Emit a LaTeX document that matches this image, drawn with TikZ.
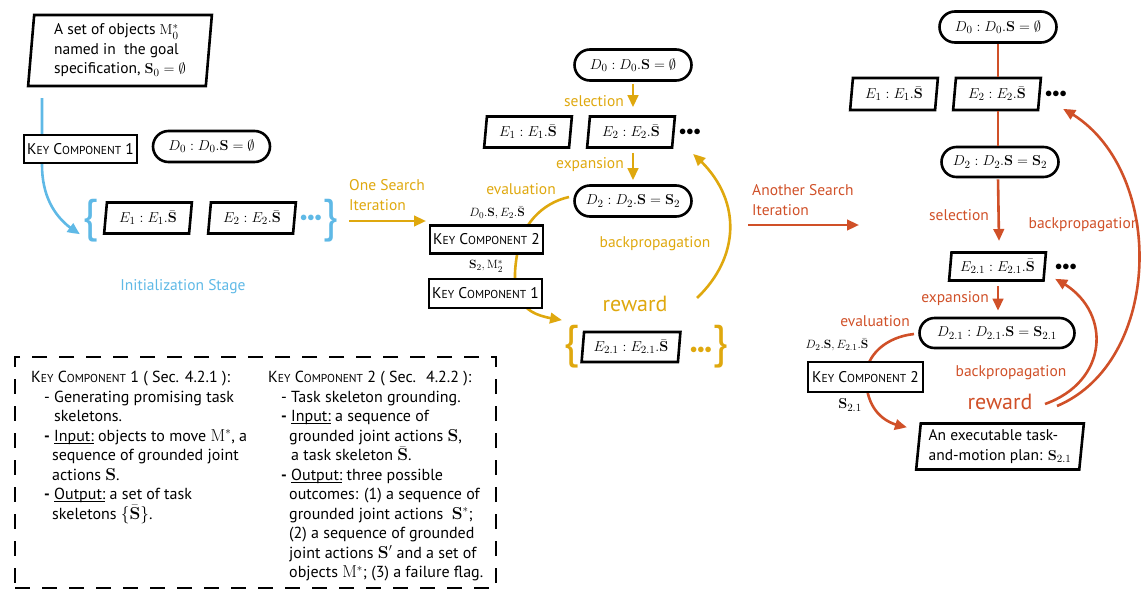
\documentclass[tikz,border=0pt]{standalone}
\usepackage[no-math]{fontspec}
\setmainfont{PT Sans}
\usepackage{amsmath,amssymb}
\usetikzlibrary{shapes.geometric,shapes.misc,arrows.meta,backgrounds,bending}
\definecolor{cblue}{RGB}{95,185,230}
\definecolor{cgold}{RGB}{223,168,14}
\definecolor{cred}{RGB}{208,80,40}
\newcommand\txtf{\fontsize{15.5}{19.5}\selectfont}
\newcommand\notef{\fontsize{16}{19.5}\selectfont}
\newcommand\mathf{\fontsize{15}{17}\selectfont}
\newcommand\smallf{\fontsize{13}{15}\selectfont}
\newcommand\keycomp[1]{K{\fontsize{11.5}{12}\selectfont EY} C{\fontsize{11.5}{12}\selectfont OMPONENT} #1}
\newcommand\threedots{${\bullet}{\bullet}{\bullet}$}
\newcommand\dash{\textbf{-}}
\newsavebox\ulbox
\newcommand\ulx[1]{\sbox\ulbox{#1}\rlap{\rule[-2.2pt]{\wd\ulbox}{0.8pt}}\usebox\ulbox}
\tikzset{
  box/.style={draw=black, line width=2.6pt, fill=white, inner sep=0pt},
  para/.style={box, trapezium, trapezium left angle=82, trapezium right angle=98,
    trapezium stretches=true, minimum height=31, minimum width=88, font=\mathf},
  stadium/.style={box, rounded rectangle, minimum height=31, minimum width=117, font=\mathf},
  kcbox/.style={box, rectangle, minimum height=28, minimum width=113, font=\txtf},
  lbl/.style={font=\txtf, inner sep=0pt},
  rwd/.style={font=\fontsize{22}{24}\selectfont, inner sep=0pt},
  arr/.style={line width=2.6pt, -{Triangle[length=12pt,width=10.5pt,bend]}},
  conn/.style={line width=2.6pt},
  brace/.style={font=\fontsize{46}{46}\selectfont, inner sep=0pt},
  dots/.style={font=\fontsize{13.5}{13.5}\selectfont, inner sep=0pt},
}
\begin{document}
\begin{tikzpicture}[x=1pt,y=-1pt]
\useasboundingbox (0,0) rectangle (1142,592);

% ---------- Initialization stage ----------
\node[box, trapezium, trapezium left angle=85, trapezium right angle=95, trapezium stretches=true,
  minimum width=184, minimum height=71, align=left, font=\txtf] (goal) at (120,50.5)
  {A set of objects $\mathrm{M}_0^*$\\named in~ the goal\\specification, $\mathbf{S}_0=\emptyset$};
\node[kcbox] (kc1a) at (80.5,149) {\keycomp{1}};
\node[stadium] (d0a) at (211.5,146.5) {$D_0 : D_0.\mathbf{S}=\emptyset$};
\node[brace, text=cblue] (lbra) at (90,221) {\{};
\node[para] (e1a) at (148,218) {$E_1 : E_1.\bar{\mathbf{S}}$};
\node[para] (e2a) at (252,218) {$E_2 : E_2.\bar{\mathbf{S}}$};
\node[dots, text=cblue] (dota) at (311,218) {\threedots};
\node[brace, text=cblue] (rbra) at (330,221) {\}};
\node[lbl, text=cblue] (init) at (183,287) {Initialization Stage};
\coordinate (b0) at (42,98);
\coordinate (b1) at (80,234);
\begin{scope}[on background layer]
\draw[arr, cblue] (b0) -- (42,165) .. controls (42,200) and (58,222) .. (b1);
\end{scope}

% ---------- One search iteration ----------
\node[lbl, text=cgold, align=left, anchor=west] (osi) at (349,195) {One Search\\Iteration};
\coordinate (g0) at (349,221);
\coordinate (g1) at (426,221);
\draw[arr, cgold] (g0) -- (g1);

\node[stadium] (d0b) at (633,65) {$D_0 : D_0.\mathbf{S}=\emptyset$};
\node[para] (e1b) at (528,132) {$E_1 : E_1.\bar{\mathbf{S}}$};
\node[para] (e2b) at (631,132) {$E_2 : E_2.\bar{\mathbf{S}}$};
\node[dots] (dotb) at (690,132) {\threedots};
\node[stadium] (d2b) at (633,201) {$D_2 : D_2.\mathbf{S}=\mathbf{S}_2$};
\node[kcbox] (kc2b) at (486.5,239.5) {\keycomp{2}};
\node[kcbox, minimum height=29] (kc1b) at (485.5,293.5) {\keycomp{1}};
\node[font=\smallf, inner sep=0pt] (inb) at (497,213) {$D_0.\mathbf{S}, E_2.\bar{\mathbf{S}}$};
\node[font=\smallf, inner sep=0pt] (outb) at (486,266) {$\mathbf{S}_2, \mathrm{M}_2^*$};
\node[brace, text=cgold] (lbrb) at (571,347) {\{};
\node[para, minimum width=99, minimum height=30] (e21b) at (631,347) {$E_{2.1} : E_{2.1}.\bar{\mathbf{S}}$};
\node[dots, text=cgold] (dotb2) at (701,350) {\threedots};
\node[brace, text=cgold] (rbrb) at (720,347) {\}};

\node[lbl, text=cgold] (selb) at (594,101) {selection};
\node[lbl, text=cgold] (expb) at (590,165) {expansion};
\node[lbl, text=cgold] (evab) at (521,189) {evaluation};
\node[lbl, text=cgold] (bpb) at (655,244) {backpropagation};
\node[rwd, text=cgold] (rwb) at (635,304) {reward};

\draw[arr, cgold, shorten <=2pt, shorten >=8pt] (d0b.south) -- (d0b.south |- e2b.north);
\draw[arr, cgold, shorten <=4pt, shorten >=4pt] (d0b.south |- e2b.south) -- (d2b.north);
\coordinate (gb0) at (569,197);
\coordinate (gb1) at (562,320);
\begin{scope}[on background layer]
\draw[arr, cgold] (gb0) .. controls (542,203) and (521,225) .. (517,255)
  .. controls (514,272) and (514,288) .. (519,298) .. controls (527,313) and (540,317) .. (gb1);
\end{scope}
\coordinate (bb0) at (697,298);
\coordinate (bb1) at (693,154);
\draw[arr, cgold] (bb0) .. controls (742,255) and (742,195) .. (bb1);

% ---------- Another search iteration ----------
\node[lbl, text=cred, align=left, anchor=west] (asi) at (752,200) {Another Search\\Iteration};
\coordinate (r0) at (748,225);
\coordinate (r1) at (859,225);
\draw[arr, cred] (r0) -- (r1);

\node[stadium] (d0c) at (998,27) {$D_0 : D_0.\mathbf{S}=\emptyset$};
\node[para, minimum height=32] (e1c) at (894,94) {$E_1 : E_1.\bar{\mathbf{S}}$};
\node[para, minimum height=32] (e2c) at (997,94) {$E_2 : E_2.\bar{\mathbf{S}}$};
\node[dots] (dotc) at (1056,94) {\threedots};
\node[stadium, minimum height=30] (d2c) at (1000,162) {$D_2 : D_2.\mathbf{S}=\mathbf{S}_2$};
\node[para, minimum width=97, minimum height=28] (e21c) at (997.5,266.5) {$E_{2.1} : E_{2.1}.\bar{\mathbf{S}}$};
\node[dots] (dotc2) at (1066,267) {\threedots};
\node[stadium, minimum width=155, minimum height=30] (d21c) at (997,333) {$D_{2.1} : D_{2.1}.\mathbf{S}=\mathbf{S}_{2.1}$};
\node[kcbox, minimum width=115, minimum height=30] (kc2c) at (865.5,377) {\keycomp{2}};
\node[font=\smallf, inner sep=0pt] (inc) at (837,345) {$D_2.\mathbf{S}, E_{2.1}.\bar{\mathbf{S}}$};
\node[font=\mathf, inner sep=0pt] (outc) at (850,405) {$\mathbf{S}_{2.1}$};
\node[box, trapezium, trapezium left angle=83, trapezium right angle=97, trapezium stretches=true,
  minimum width=168, minimum height=46, align=left, font=\txtf] (plan) at (1000,446.5)
  {An executable task-\\and-motion plan: $\mathbf{S}_{2.1}$};

\node[lbl, text=cred] (selc) at (959,215) {selection};
\node[lbl, text=cred] (bpc1) at (1084,225) {backpropagation};
\node[lbl, text=cred] (expc) at (955,299) {expansion};
\node[lbl, text=cred] (evac) at (875,321) {evaluation};
\node[lbl, text=cred] (bpc2) at (1011,373) {backpropagation};
\node[rwd, text=cred] (rwc) at (1000,402) {reward};

\draw[conn, cred] (d0c.south) -- (d0c.south |- e2c.north);
\draw[conn, cred] (d0c.south |- e2c.south) -- (d0c.south |- d2c.north);
\draw[arr, cred, shorten <=1pt] (d2c.south -| d0c.south) -- (999,241);
\draw[arr, cred, shorten <=4pt, shorten >=6pt] (e21c.south -| d0c.south) -- (d0c.south |- d21c.north);
\coordinate (rc0) at (914,334);
\coordinate (rc1) at (907,427);
\begin{scope}[on background layer]
\draw[arr, cred] (rc0) .. controls (886,337) and (866,355) .. (866,377)
  .. controls (866,405) and (880,424) .. (rc1);
\end{scope}
\coordinate (sb0) at (1045,404);
\coordinate (sb1) at (1055,279);
\draw[arr, cred] (sb0) .. controls (1112,380) and (1112,305) .. (sb1);
\coordinate (lb0) at (1057,406);
\coordinate (lb1) at (1063,109);
\draw[arr, cred] (lb0) .. controls (1166,360) and (1166,160) .. (lb1);

% ---------- Notes box ----------
\node[draw=black, line width=2.6pt, dash pattern=on 15pt off 12pt, minimum width=481, minimum height=231,
  inner sep=0pt] (notes) at (255.5,472.5) {};
\node[font=\notef, align=left, anchor=north west, inner sep=0pt] (note1) at (31,371)
 {\keycomp{1} ( Sec. 4.2.1 ):\\
  \hspace*{13pt}- Generating promising task\\
  \hspace*{23pt}skeletons.\\
  \hspace*{13pt}\dash\ \ulx{Input:} objects to move $\mathrm{M}^*$, a\\
  \hspace*{21pt}sequence of grounded joint\\
  \hspace*{21pt}actions $\mathbf{S}$.\\
  \hspace*{13pt}\dash\ \ulx{Output:} a set of task\\
  \hspace*{21pt}skeletons $\{\bar{\mathbf{S}}\}$.};
\node[font=\notef, align=left, anchor=north west, inner sep=0pt] (note2) at (268,371)
 {\keycomp{2} ( Sec.~ 4.2.2 ):\\
  \hspace*{13pt}- Task skeleton grounding.\\
  \hspace*{13pt}\dash\ \ulx{Input:} a sequence of\\
  \hspace*{21pt}grounded joint actions $\mathbf{S}$,\\
  \hspace*{23pt}a task skeleton $\bar{\mathbf{S}}$.\\
  \hspace*{13pt}\dash\ \ulx{Output:} three possible\\
  \hspace*{21pt}outcomes: (1) a sequence of\\
  \hspace*{21pt}grounded joint actions~ $\mathbf{S}^*$;\\
  \hspace*{21pt}(2) a sequence of grounded\\
  \hspace*{21pt}joint actions $\mathbf{S}'$ and a set of\\
  \hspace*{21pt}objects $\mathrm{M}^*$; (3) a failure flag.};
\end{tikzpicture}
\end{document}
